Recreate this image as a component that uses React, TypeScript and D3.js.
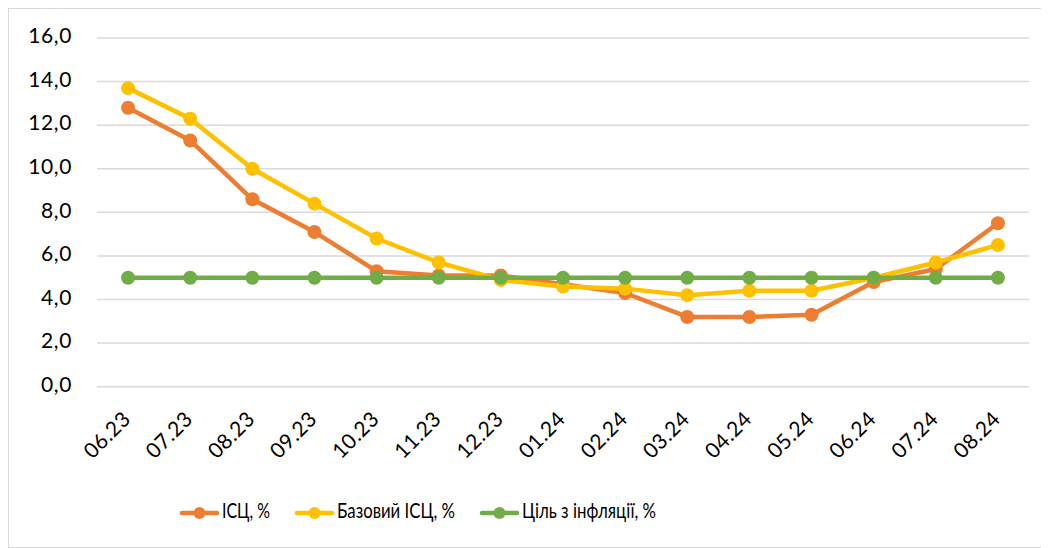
import React from "react";
import * as d3 from "d3";

const categories = ["06.23","07.23","08.23","09.23","10.23","11.23","12.23","01.24","02.24","03.24","04.24","05.24","06.24","07.24","08.24"];
const cpi = [12.8, 11.3, 8.6, 7.1, 5.3, 5.1, 5.1, 4.7, 4.3, 3.2, 3.2, 3.3, 4.8, 5.4, 7.5];
const coreCpi = [13.7, 12.3, 10.0, 8.4, 6.8, 5.7, 4.9, 4.6, 4.5, 4.2, 4.4, 4.4, 5.0, 5.7, 6.5];
const target = [5, 5, 5, 5, 5, 5, 5, 5, 5, 5, 5, 5, 5, 5, 5];
const yTicks = [0, 2, 4, 6, 8, 10, 12, 14, 16];
const seriesNames = ["ІСЦ, %", "Базовий ІСЦ, %", "Ціль з інфляції, %"];
const colors = ["#ED7D31", "#FFC000", "#70AD47"];

export default function App() {
  const W = 1041, H = 540;
  const left = 89, right = 1021, top = 30, bottom = 378.7;
  const x = d3.scaleBand<string>().domain(categories).range([left, right]);
  const y = d3.scaleLinear().domain([0, 16]).range([bottom, top]);
  const line = d3.line<number>().x((_, i) => x(categories[i])! + x.bandwidth() / 2).y(d => y(d));
  const series = [cpi, coreCpi, target];
  const font = "Lato, 'Open Sans', sans-serif";
  const legendX = [174, 289, 474];
  const legendLen = [48, 118, 134];
  const legendY = 505;
  return (
    <svg width={W} height={H} style={{ display: "block" }} fontFamily={font}>
      <rect x={0.5} y={0.5} width={W - 1} height={H - 1} fill="#fff" stroke="#d9d9d9" />
      {yTicks.map(t => (
        <g key={t}>
          <line x1={left} x2={right} y1={y(t)} y2={y(t)} stroke="#d9d9d9" strokeWidth={1.5} />
          <text x={left - 25} y={y(t)} textAnchor="end" dominantBaseline="middle" fontSize={21} letterSpacing={0.6} fill="#000">
            {d3.format(".1f")(t).replace(".", ",")}
          </text>
        </g>
      ))}
      {categories.map(c => (
        <text key={c} transform={`translate(${x(c)! + x.bandwidth() / 2},${bottom + 30}) rotate(-45)`}
          textAnchor="end" dominantBaseline="middle" fontSize={21} letterSpacing={0.4} fill="#000">{c}</text>
      ))}
      {series.map((s, si) => (
        <g key={si}>
          <path d={line(s) ?? ""} fill="none" stroke={colors[si]} strokeWidth={4.5} strokeLinejoin="round" />
          {s.map((v, i) => (
            <circle key={i} cx={x(categories[i])! + x.bandwidth() / 2} cy={y(v)} r={7} fill={colors[si]} />
          ))}
        </g>
      ))}
      {seriesNames.map((n, i) => (
        <g key={n} transform={`translate(${legendX[i]},${legendY})`}>
          <line x1={0} x2={35} y1={0} y2={0} stroke={colors[i]} strokeWidth={4.5} strokeLinecap="round" />
          <circle cx={17.5} cy={0} r={6} fill={colors[i]} />
          <text x={40} y={0} dominantBaseline="middle" fontSize={21} textLength={legendLen[i]} lengthAdjust="spacingAndGlyphs" fill="#000">{n}</text>
        </g>
      ))}
    </svg>
  );
}
